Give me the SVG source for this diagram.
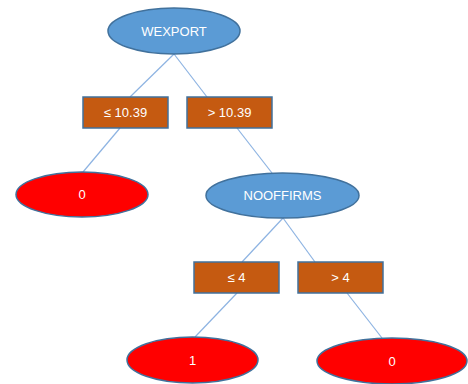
<svg xmlns="http://www.w3.org/2000/svg" width="468" height="384" viewBox="0 0 468 384">
  <style>
    .edge { stroke: #8db3e2; stroke-width: 1.2; fill: none; }
    .split { fill: #5b9bd5; stroke: #41719c; stroke-width: 1.5; }
    .cond { fill: #c55a11; stroke: #41719c; stroke-width: 1.5; }
    .leaf { fill: #ff0000; stroke: #41719c; stroke-width: 1.5; }
    text { font-family: "Liberation Sans", Arial, sans-serif; font-size: 13px; fill: #ffffff; text-anchor: middle; dominant-baseline: central; }
  </style>
  <rect width="468" height="384" fill="#ffffff"/>

  <g id="connectors">
    <line class="edge" x1="174" y1="54" x2="130" y2="97"/>
    <line class="edge" x1="174" y1="54" x2="207" y2="97"/>
    <line class="edge" x1="120" y1="128" x2="83" y2="172"/>
    <line class="edge" x1="237" y1="128" x2="272" y2="173"/>
    <line class="edge" x1="283" y1="218" x2="242" y2="262"/>
    <line class="edge" x1="283" y1="218" x2="315" y2="262"/>
    <line class="edge" x1="237" y1="293" x2="195" y2="337"/>
    <line class="edge" x1="347" y1="293" x2="382" y2="338"/>
  </g>

  <g id="wexport">
    <ellipse class="split" cx="174" cy="31" rx="66" ry="23"/>
    <text x="174" y="31">WEXPORT</text>
  </g>
  <g id="cond-le-10-39">
    <rect class="cond" x="83" y="97" width="85" height="31"/>
    <text x="125.5" y="112.5">≤ 10.39</text>
  </g>
  <g id="cond-gt-10-39">
    <rect class="cond" x="187" y="97" width="85" height="31"/>
    <text x="229.5" y="112.5">&gt; 10.39</text>
  </g>
  <g id="leaf-left-0">
    <ellipse class="leaf" cx="82" cy="194.5" rx="66" ry="22.5"/>
    <text x="82" y="194.5">0</text>
  </g>
  <g id="nooffirms">
    <ellipse class="split" cx="282.5" cy="195.5" rx="76.5" ry="22.5"/>
    <text x="282.5" y="195.5">NOOFFIRMS</text>
  </g>
  <g id="cond-le-4">
    <rect class="cond" x="194" y="262" width="85" height="31"/>
    <text x="236.5" y="277.5">≤ 4</text>
  </g>
  <g id="cond-gt-4">
    <rect class="cond" x="298" y="262" width="85" height="31"/>
    <text x="340.5" y="277.5">&gt; 4</text>
  </g>
  <g id="leaf-1">
    <ellipse class="leaf" cx="192.5" cy="360" rx="65.5" ry="23"/>
    <text x="192.5" y="360">1</text>
  </g>
  <g id="leaf-right-0">
    <ellipse class="leaf" cx="392" cy="361" rx="75" ry="23"/>
    <text x="392" y="361">0</text>
  </g>
</svg>
